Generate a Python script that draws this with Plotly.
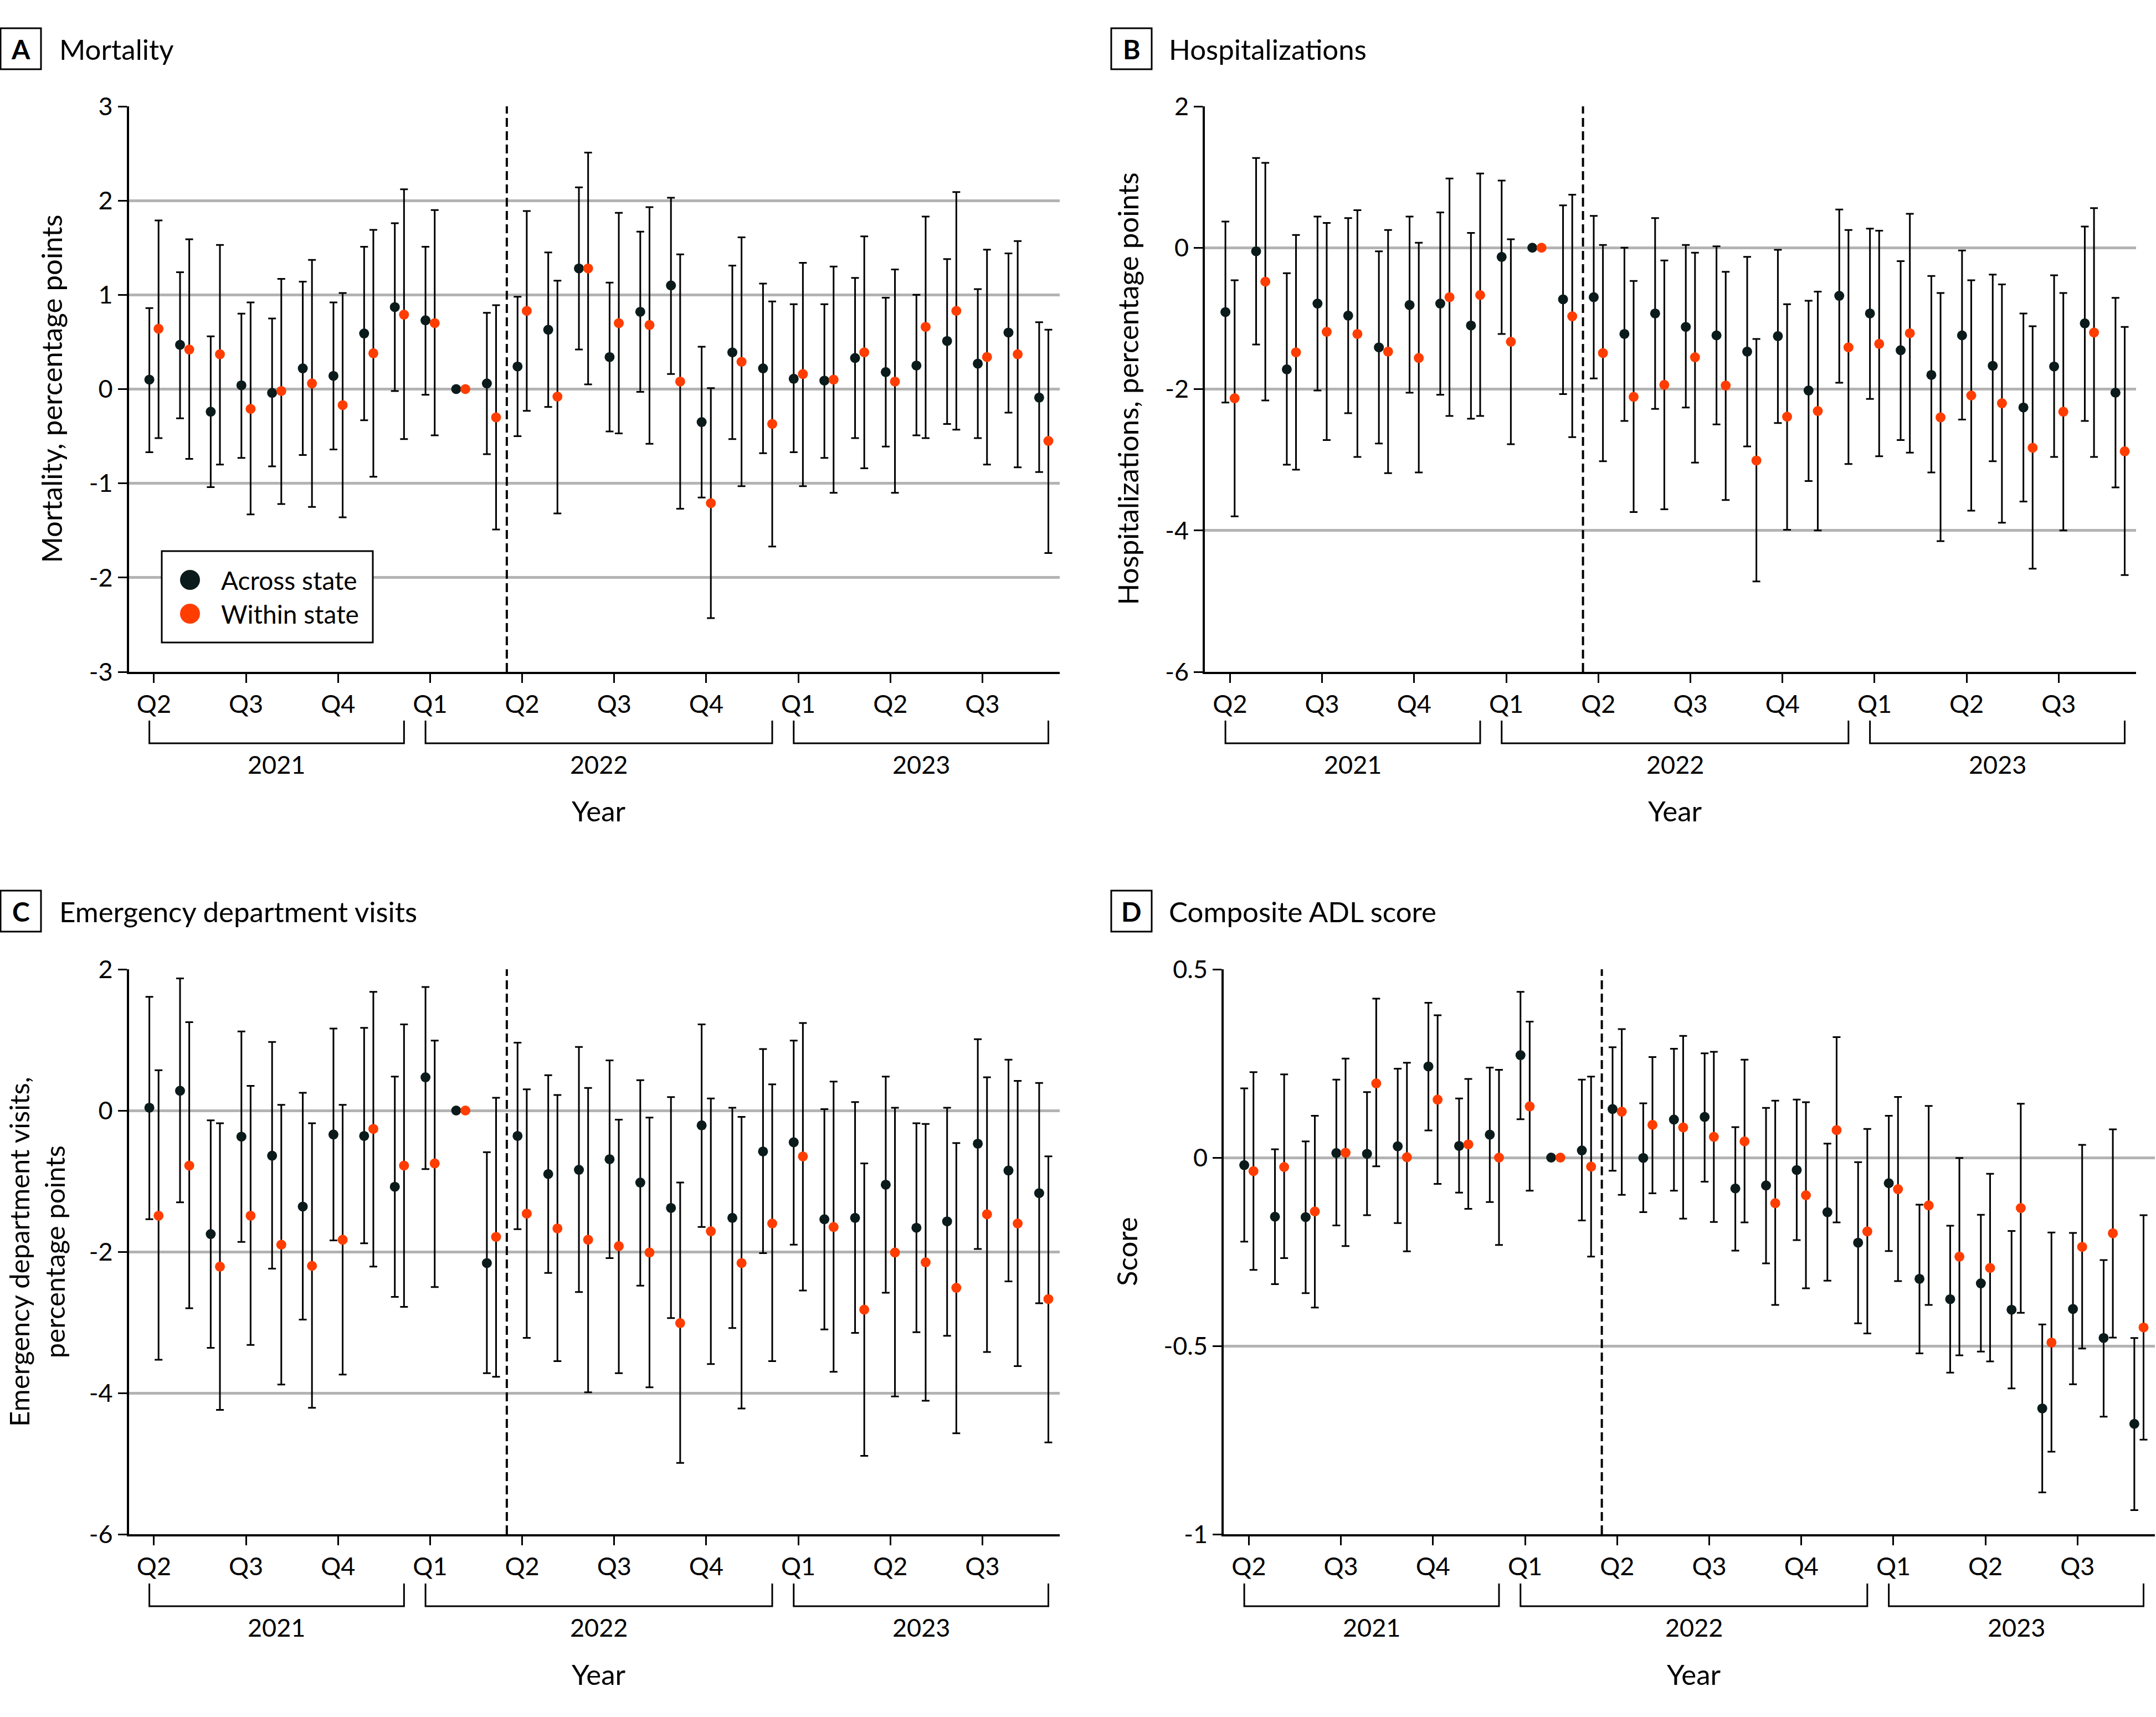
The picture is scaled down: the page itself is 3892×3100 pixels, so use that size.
import plotly.graph_objects as go

W, H = 3892, 3100

# ---------------- data ----------------
months = list(range(30))            # Apr 2021 ... Sep 2023 (month index)
ref_month = 10                      # Feb 2022 reference
policy_x = 11.5
quarter_ticks = [0, 3, 6, 9, 12, 15, 18, 21, 24, 27]
quarter_labels = ["Q2", "Q3", "Q4", "Q1", "Q2", "Q3", "Q4", "Q1", "Q2", "Q3"]
years = ["2021", "2022", "2023"]
year_first = [0, 9, 21]
year_last = [8, 20, 29]

mort_across = [0.10, 0.47, -0.24, 0.04, -0.04, 0.22, 0.14, 0.59, 0.87, 0.73, 0, 0.06, 0.24, 0.63, 1.28, 0.34, 0.82, 1.10, -0.35, 0.39, 0.22, 0.11, 0.09, 0.33, 0.18, 0.25, 0.51, 0.27, 0.60, -0.09]
mort_across_lo = [-0.67, -0.31, -1.04, -0.73, -0.82, -0.70, -0.64, -0.33, -0.02, -0.06, None, -0.69, -0.50, -0.19, 0.42, -0.45, -0.03, 0.16, -1.15, -0.53, -0.68, -0.67, -0.73, -0.52, -0.61, -0.49, -0.37, -0.52, -0.25, -0.88]
mort_across_hi = [0.86, 1.24, 0.56, 0.80, 0.75, 1.14, 0.92, 1.51, 1.76, 1.51, None, 0.81, 0.98, 1.45, 2.14, 1.13, 1.67, 2.03, 0.45, 1.31, 1.12, 0.90, 0.90, 1.18, 0.97, 1.00, 1.38, 1.06, 1.44, 0.71]
mort_within = [0.64, 0.42, 0.37, -0.21, -0.02, 0.06, -0.17, 0.38, 0.79, 0.70, 0, -0.30, 0.83, -0.08, 1.28, 0.70, 0.68, 0.08, -1.21, 0.29, -0.37, 0.16, 0.10, 0.39, 0.08, 0.66, 0.83, 0.34, 0.37, -0.55]
mort_within_lo = [-0.52, -0.74, -0.80, -1.33, -1.22, -1.25, -1.36, -0.93, -0.53, -0.49, None, -1.49, -0.23, -1.32, 0.05, -0.47, -0.58, -1.27, -2.43, -1.03, -1.67, -1.03, -1.10, -0.84, -1.10, -0.52, -0.43, -0.80, -0.83, -1.74]
mort_within_hi = [1.79, 1.59, 1.53, 0.92, 1.17, 1.37, 1.02, 1.69, 2.12, 1.90, None, 0.89, 1.89, 1.15, 2.51, 1.87, 1.93, 1.43, 0.01, 1.61, 0.93, 1.34, 1.30, 1.62, 1.27, 1.83, 2.09, 1.48, 1.57, 0.63]

hosp_across = [-0.91, -0.05, -1.72, -0.79, -0.96, -1.41, -0.81, -0.79, -1.10, -0.13, 0, -0.73, -0.70, -1.22, -0.93, -1.12, -1.24, -1.47, -1.25, -2.02, -0.68, -0.93, -1.45, -1.80, -1.24, -1.67, -2.26, -1.68, -1.07, -2.05]
hosp_across_lo = [-2.19, -1.37, -3.07, -2.02, -2.34, -2.77, -2.05, -2.08, -2.42, -1.22, None, -2.07, -1.85, -2.45, -2.28, -2.26, -2.50, -2.81, -2.48, -3.30, -1.91, -2.14, -2.72, -3.18, -2.43, -3.02, -3.59, -2.96, -2.45, -3.39]
hosp_across_hi = [0.37, 1.27, -0.36, 0.44, 0.42, -0.05, 0.44, 0.50, 0.21, 0.95, None, 0.60, 0.45, 0.00, 0.42, 0.04, 0.02, -0.13, -0.03, -0.75, 0.54, 0.27, -0.19, -0.40, -0.04, -0.38, -0.93, -0.39, 0.30, -0.71]
hosp_within = [-2.13, -0.48, -1.48, -1.19, -1.22, -1.47, -1.56, -0.70, -0.67, -1.33, 0, -0.97, -1.49, -2.11, -1.94, -1.55, -1.95, -3.01, -2.39, -2.31, -1.41, -1.36, -1.21, -2.40, -2.09, -2.20, -2.83, -2.32, -1.20, -2.88]
hosp_within_lo = [-3.80, -2.16, -3.14, -2.72, -2.96, -3.19, -3.18, -2.38, -2.38, -2.78, None, -2.68, -3.02, -3.74, -3.70, -3.04, -3.57, -4.72, -3.99, -4.00, -3.06, -2.95, -2.90, -4.15, -3.72, -3.89, -4.54, -4.00, -2.96, -4.63]
hosp_within_hi = [-0.46, 1.20, 0.18, 0.35, 0.53, 0.25, 0.07, 0.98, 1.05, 0.12, None, 0.75, 0.04, -0.47, -0.18, -0.07, -0.34, -1.29, -0.80, -0.62, 0.25, 0.24, 0.48, -0.64, -0.46, -0.52, -1.11, -0.64, 0.56, -1.12]

ed_across = [0.04, 0.28, -1.75, -0.37, -0.64, -1.36, -0.34, -0.36, -1.08, 0.47, 0, -2.16, -0.36, -0.90, -0.84, -0.69, -1.02, -1.38, -0.21, -1.52, -0.58, -0.45, -1.54, -1.52, -1.05, -1.66, -1.57, -0.47, -0.85, -1.17]
ed_across_lo = [-1.54, -1.30, -3.36, -1.86, -2.24, -2.96, -1.84, -1.88, -2.64, -0.83, None, -3.72, -1.68, -2.30, -2.57, -2.09, -2.48, -2.94, -1.65, -3.08, -2.02, -1.90, -3.10, -3.15, -2.58, -3.14, -3.19, -1.96, -2.42, -2.73]
ed_across_hi = [1.61, 1.87, -0.14, 1.12, 0.97, 0.25, 1.16, 1.17, 0.48, 1.75, None, -0.59, 0.96, 0.50, 0.90, 0.71, 0.43, 0.19, 1.22, 0.04, 0.87, 0.99, 0.02, 0.12, 0.48, -0.18, 0.04, 1.01, 0.72, 0.39]
ed_within = [-1.49, -0.78, -2.21, -1.49, -1.90, -2.20, -1.83, -0.26, -0.78, -0.75, 0, -1.79, -1.46, -1.67, -1.83, -1.92, -2.01, -3.01, -1.71, -2.16, -1.60, -0.65, -1.65, -2.82, -2.01, -2.15, -2.51, -1.47, -1.60, -2.67]
ed_within_lo = [-3.53, -2.80, -4.24, -3.32, -3.88, -4.21, -3.74, -2.21, -2.78, -2.50, None, -3.77, -3.22, -3.55, -3.99, -3.72, -3.92, -4.99, -3.59, -4.22, -3.55, -2.55, -3.70, -4.89, -4.05, -4.11, -4.57, -3.42, -3.62, -4.70]
ed_within_hi = [0.57, 1.25, -0.18, 0.35, 0.08, -0.18, 0.08, 1.68, 1.22, 0.99, None, 0.18, 0.30, 0.22, 0.32, -0.13, -0.10, -1.02, 0.17, -0.09, 0.37, 1.24, 0.41, -0.75, 0.04, -0.19, -0.46, 0.47, 0.42, -0.65]

adl_across = [-0.020, -0.157, -0.158, 0.012, 0.010, 0.030, 0.242, 0.031, 0.061, 0.272, 0, 0.019, 0.129, -0.001, 0.101, 0.108, -0.082, -0.074, -0.033, -0.145, -0.226, -0.068, -0.322, -0.376, -0.334, -0.404, -0.666, -0.402, -0.479, -0.707]
adl_across_lo = [-0.223, -0.336, -0.360, -0.180, -0.153, -0.174, 0.072, -0.093, -0.118, 0.102, None, -0.167, -0.035, -0.145, -0.088, -0.064, -0.247, -0.281, -0.219, -0.327, -0.440, -0.248, -0.520, -0.571, -0.515, -0.613, -0.889, -0.602, -0.688, -0.936]
adl_across_hi = [0.184, 0.022, 0.043, 0.207, 0.174, 0.236, 0.411, 0.157, 0.239, 0.440, None, 0.207, 0.293, 0.144, 0.289, 0.277, 0.081, 0.132, 0.154, 0.037, -0.012, 0.111, -0.125, -0.181, -0.152, -0.195, -0.443, -0.200, -0.272, -0.479]
adl_within = [-0.036, -0.025, -0.143, 0.013, 0.197, 0.001, 0.154, 0.035, 0.0, 0.136, 0, -0.024, 0.122, 0.087, 0.080, 0.055, 0.043, -0.121, -0.100, 0.073, -0.196, -0.084, -0.127, -0.263, -0.293, -0.134, -0.491, -0.237, -0.201, -0.451]
adl_within_lo = [-0.298, -0.267, -0.398, -0.235, -0.023, -0.249, -0.070, -0.136, -0.232, -0.088, None, -0.263, -0.099, -0.095, -0.162, -0.171, -0.172, -0.391, -0.347, -0.172, -0.467, -0.328, -0.391, -0.525, -0.541, -0.412, -0.781, -0.507, -0.478, -0.749]
adl_within_hi = [0.227, 0.221, 0.111, 0.263, 0.422, 0.252, 0.378, 0.209, 0.233, 0.361, None, 0.215, 0.341, 0.267, 0.323, 0.281, 0.260, 0.151, 0.147, 0.320, 0.076, 0.161, 0.137, -0.001, -0.043, 0.143, -0.199, 0.034, 0.075, -0.153]

# ---------------- style ----------------
FONT = "Lato, 'Noto Sans', sans-serif"
C_ACROSS = "#0b1a1a"
C_WITHIN = "#ff3d00"
OFFSET = 0.15
TICK_SIZE = 45
TITLE_SIZE = 51

def px(x):
    return x / W

def py(y):
    return 1 - y / H

panels = [
    dict(letter="A", title="Mortality", ytitle="Mortality, percentage points",
         across=(mort_across, mort_across_lo, mort_across_hi),
         within=(mort_within, mort_within_lo, mort_within_hi),
         yrange=[-3, 3], yticks=[-3, -2, -1, 0, 1, 2, 3],
         xdom=(232.5, 1913), ydom=(192, 1213), ytx=92, ysize=TITLE_SIZE,
         box=(1, 74), title_x=105, title_y=88),
    dict(letter="B", title="Hospitalizations", ytitle="Hospitalizations, percentage points",
         across=(hosp_across, hosp_across_lo, hosp_across_hi),
         within=(hosp_within, hosp_within_lo, hosp_within_hi),
         yrange=[-6, 2], yticks=[-6, -4, -2, 0, 2],
         xdom=(2175, 3856), ydom=(192, 1213), ytx=2035, ysize=TITLE_SIZE,
         box=(2006, 2079), title_x=2108, title_y=88),
    dict(letter="C", title="Emergency department visits",
         ytitle="Emergency department visits,<br>percentage points",
         across=(ed_across, ed_across_lo, ed_across_hi),
         within=(ed_within, ed_within_lo, ed_within_hi),
         yrange=[-6, 2], yticks=[-6, -4, -2, 0, 2],
         xdom=(232.5, 1913), ydom=(1750, 2770), ytx=66, ysize=49,
         box=(1, 74), title_x=105, title_y=1645),
    dict(letter="D", title="Composite ADL score", ytitle="Score",
         across=(adl_across, adl_across_lo, adl_across_hi),
         within=(adl_within, adl_within_lo, adl_within_hi),
         yrange=[-1, 0.5], yticks=[-1, -0.5, 0, 0.5],
         xdom=(2209, 3890), ydom=(1750, 2770), ytx=2033, ysize=TITLE_SIZE,
         box=(2006, 2079), title_x=2108, title_y=1645),
]


def err_arrays(est, lo, hi):
    plus = [(h - e) if h is not None else float("nan") for e, h in zip(est, hi)]
    minus = [(e - l) if l is not None else float("nan") for e, l in zip(est, lo)]
    return plus, minus


def fmt(v):
    return "%g" % v


fig = go.Figure()
shapes = []
annotations = []

for i, p in enumerate(panels):
    n = "" if i == 0 else str(i + 1)
    xa, ya = "x" + n, "y" + n
    for (series, color, off, name) in [
        (p["across"], C_ACROSS, -OFFSET, "Across state"),
        (p["within"], C_WITHIN, OFFSET, "Within state"),
    ]:
        est, lo, hi = series
        plus, minus = err_arrays(est, lo, hi)
        fig.add_trace(go.Scatter(
            x=[m + off for m in months], y=est, mode="markers",
            name=name, showlegend=False,
            marker=dict(color=color, size=18, line=dict(width=0)),
            error_y=dict(type="data", symmetric=False, array=plus, arrayminus=minus,
                         color="black", thickness=3, width=7),
            xaxis=xa, yaxis=ya,
        ))

    x0d, x1d = p["xdom"]
    yt, yb = p["ydom"]
    fig.layout["xaxis" + n] = dict(
        domain=[px(x0d), px(x1d)], anchor=ya, range=[-0.82, 29.52], automargin=False,
        tickmode="array", tickvals=quarter_ticks, ticktext=quarter_labels,
        ticks="outside", ticklen=16, tickwidth=3, tickcolor="black",
        showgrid=False, zeroline=False, showline=True, linecolor="black", linewidth=4,
        tickfont=dict(family=FONT, size=TICK_SIZE, color="black"),
    )
    fig.layout["yaxis" + n] = dict(
        domain=[py(yb), py(yt)], anchor=xa, range=p["yrange"], automargin=False,
        tickmode="array", tickvals=p["yticks"], ticktext=[fmt(v) for v in p["yticks"]],
        ticks="outside", ticklen=16, tickwidth=3, tickcolor="black",
        showgrid=True, gridcolor="#b3b3b3", gridwidth=5,
        zeroline=False, showline=True, linecolor="black", linewidth=4,
        tickfont=dict(family=FONT, size=TICK_SIZE, color="black"),
    )

    # policy line
    shapes.append(dict(type="line", xref=xa, yref=ya + " domain", x0=policy_x, x1=policy_x,
                       y0=0, y1=1, line=dict(color="black", width=4, dash="16px,8px"), layer="above"))

    # year brackets + labels
    top, bot = yt + 1109, yt + 1150
    for yr, f, l in zip(years, year_first, year_last):
        xa0, xa1 = f - OFFSET, l + OFFSET
        shapes.append(dict(type="path", xref=xa, yref="paper",
                           path=f"M {xa0},{py(top)} L {xa0},{py(bot)} L {xa1},{py(bot)} L {xa1},{py(top)}",
                           line=dict(color="black", width=3)))
        annotations.append(dict(text=yr, xref=xa, yref="paper", x=(xa0 + xa1) / 2, y=py(yt + 1188),
                                showarrow=False, xanchor="center", yanchor="middle",
                                font=dict(family=FONT, size=TICK_SIZE, color="black")))
    annotations.append(dict(text="Year", xref=xa, yref="paper",
                            x=(year_first[0] - OFFSET + year_last[-1] + OFFSET) / 2, y=py(yt + 1272),
                            showarrow=False, xanchor="center", yanchor="middle",
                            font=dict(family=FONT, size=TITLE_SIZE, color="black")))

    # y title
    annotations.append(dict(text=p["ytitle"], xref="paper", yref="paper", x=px(p["ytx"]),
                            y=py((yt + yb) / 2), textangle=-90, showarrow=False,
                            xanchor="center", yanchor="middle",
                            font=dict(family=FONT, size=p["ysize"], color="black")))

    # panel label box + title
    bx0, bx1 = p["box"]
    by0, by1 = p["title_y"] - 37, p["title_y"] + 37
    shapes.append(dict(type="rect", xref="paper", yref="paper", x0=px(bx0), x1=px(bx1),
                       y0=py(by1), y1=py(by0), line=dict(color="black", width=3)))
    annotations.append(dict(text="<b>" + p["letter"] + "</b>", xref="paper", yref="paper",
                            x=px((bx0 + bx1) / 2), y=py(p["title_y"]), showarrow=False,
                            xanchor="center", yanchor="middle",
                            font=dict(family=FONT, size=48, color="black")))
    annotations.append(dict(text=p["title"], xref="paper", yref="paper",
                            x=px(p["title_x"]), y=py(p["title_y"]), showarrow=False,
                            xanchor="left", yanchor="middle",
                            font=dict(family=FONT, size=51, color="black")))

# legend (drawn in panel A)
shapes.append(dict(type="rect", xref="paper", yref="paper", x0=px(292), x1=px(673),
                   y0=py(1160), y1=py(995), line=dict(color="black", width=3),
                   fillcolor="white", layer="above"))
for cy, col, lab in [(1047, C_ACROSS, "Across state"), (1108, C_WITHIN, "Within state")]:
    shapes.append(dict(type="circle", xref="paper", yref="paper", x0=px(325), x1=px(361),
                       y0=py(cy + 18), y1=py(cy - 18), line=dict(width=0), fillcolor=col,
                       layer="above"))
    annotations.append(dict(text=lab, xref="paper", yref="paper", x=px(397), y=py(cy),
                            showarrow=False, xanchor="left", yanchor="middle",
                            font=dict(family=FONT, size=46, color="black")))

fig.update_layout(
    width=W, height=H, margin=dict(l=0, r=0, t=0, b=0, autoexpand=False),
    paper_bgcolor="white", plot_bgcolor="white",
    showlegend=False, shapes=shapes, annotations=annotations,
    font=dict(family=FONT, color="black"),
)

fig.write_html("out.html")
